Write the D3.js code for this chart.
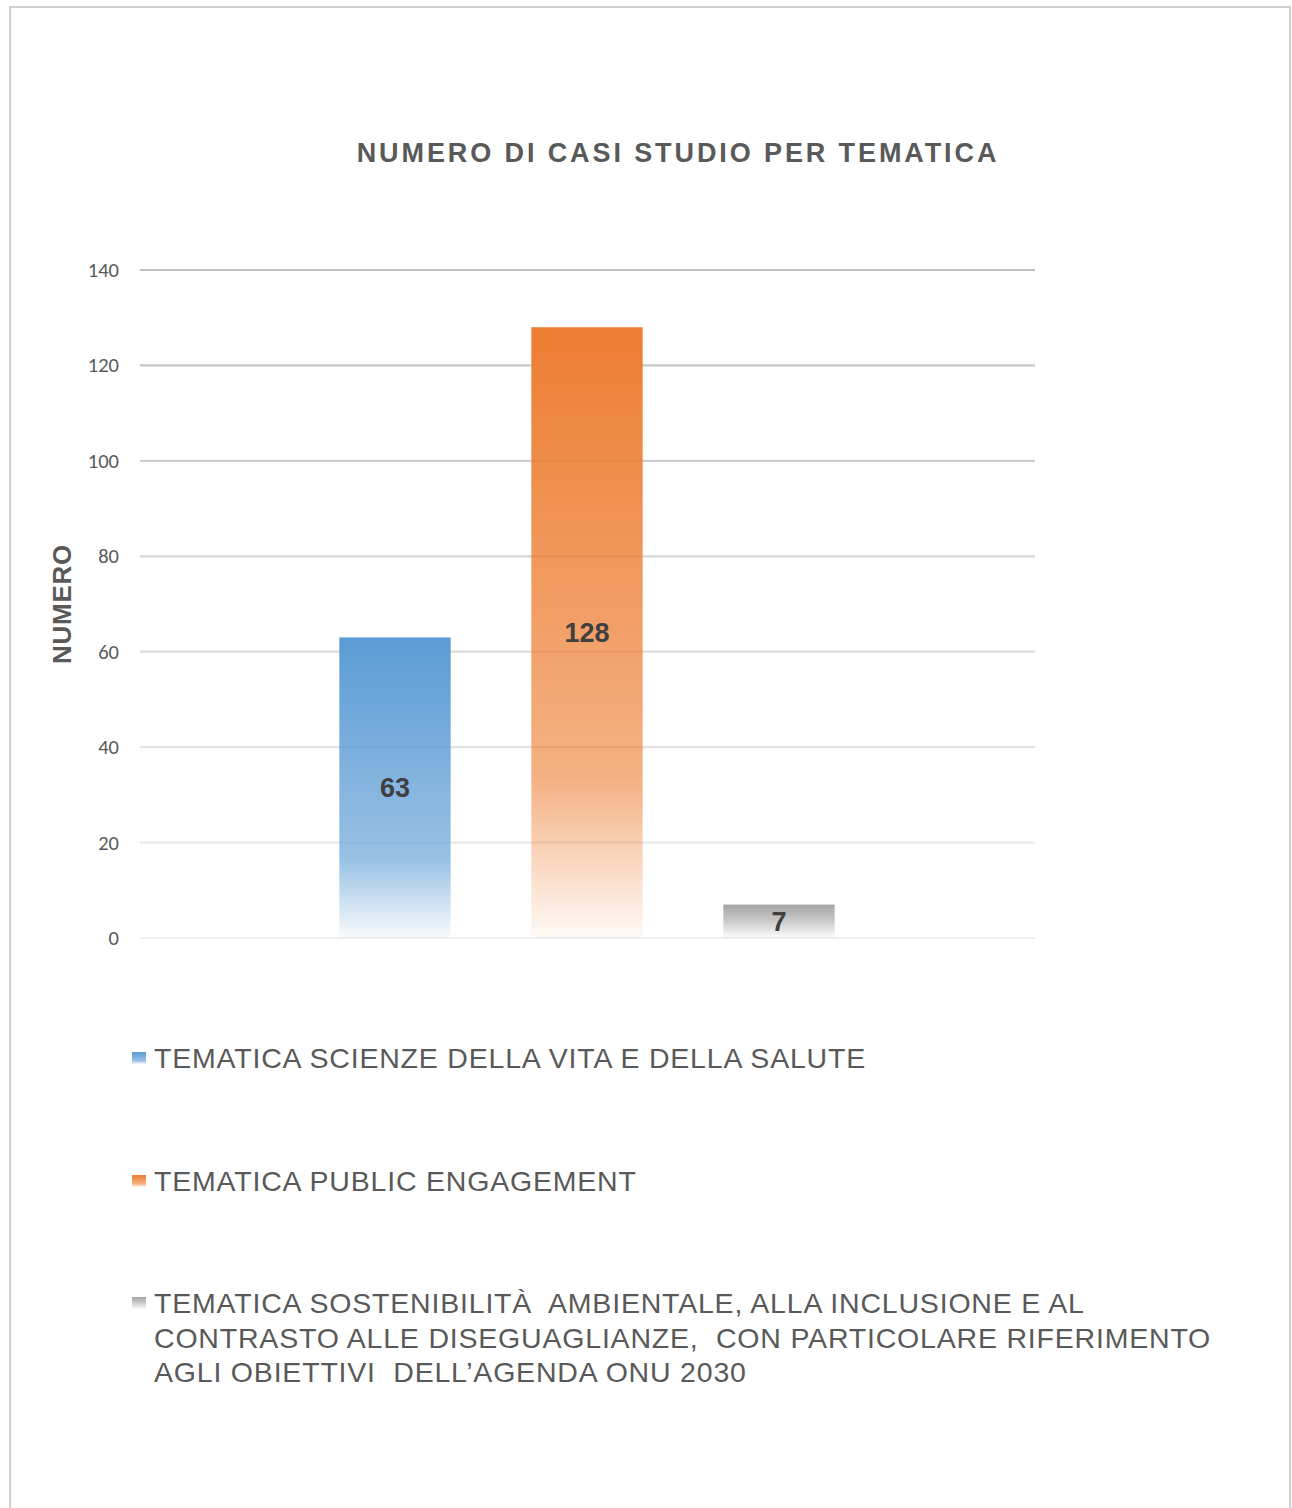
<!DOCTYPE html>
<html>
<head>
<meta charset="utf-8">
<script src="https://cdn.jsdelivr.net/npm/d3@7"></script>
<style>
  body { margin: 0; background: #fff; }
  svg { display: block; font-family: "Liberation Sans", Arial, sans-serif; }
</style>
</head>
<body>
<div id="chart"></div>
<script>
//  data
var SERIES = ["TEMATICA SCIENZE DELLA VITA E DELLA SALUTE",
  "TEMATICA PUBLIC ENGAGEMENT",
  "TEMATICA SOSTENIBILITÀ AMBIENTALE"];
var VALUES = [63, 128, 7];
var COLORS = ["#5b9bd5", "#ed7d31", "#a5a5a5"];
var LEGEND_LINES = [
  ["TEMATICA SCIENZE DELLA VITA E DELLA SALUTE"],
  ["TEMATICA PUBLIC ENGAGEMENT"],
  ["TEMATICA SOSTENIBILITÀ  AMBIENTALE, ALLA INCLUSIONE E AL",
   "CONTRASTO ALLE DISEGUAGLIANZE,  CON PARTICOLARE RIFERIMENTO",
   "AGLI OBIETTIVI  DELL\u2019AGENDA ONU 2030"]
];
var Y_TICKS = [0, 20, 40, 60, 80, 100, 120, 140];

function draw_chart() {
  const w = 1292
  const h = 1508
  const margin = ({top: 270, right: 257, bottom: 570, left: 140})

  const svg = d3.select("#chart").append("svg").attr("width", w).attr("height", h)

  // frame
  svg.append("path")
    .attr("d", `M10,${h} V7 H1290 V${h}`)
    .attr("fill", "none")
    .attr("stroke", "#d0d0d0")
    .attr("stroke-width", 2)

  const y = d3.scaleLinear().domain([0, 140]).range([h - margin.bottom, margin.top])
  const x = d3.scaleBand().domain(SERIES).range([299, 875]).paddingInner(0.42).paddingOuter(0.21)

  // gradients
  const defs = svg.append("defs")
  COLORS.forEach((c, i) => {
    const g = defs.append("linearGradient").attr("id", "grad" + i)
      .attr("x1", 0).attr("y1", 0).attr("x2", 0).attr("y2", 1)
    g.append("stop").attr("offset", "0%").attr("stop-color", c).attr("stop-opacity", 1)
    g.append("stop").attr("offset", i == 2 ? "45%" : "74%").attr("stop-color", c).attr("stop-opacity", i == 1 ? 0.6 : 0.62)
    g.append("stop").attr("offset", "100%").attr("stop-color", c).attr("stop-opacity", 0.04)
  })

  // gridlines
  const gridColor = d3.interpolateRgb("#f0f0f0", "#bfbfbf")
  svg.append("g").selectAll("line").data(Y_TICKS).enter()
    .append("line")
    .attr("x1", margin.left)
    .attr("x2", w - margin.right)
    .attr("y1", d => y(d))
    .attr("y2", d => y(d))
    .attr("stroke", d => gridColor(d / 140))
    .attr("stroke-width", 2.2)

  // y axis
  const yAxis = g => g
    .attr("transform", `translate(${margin.left},0)`)
    .call(d3.axisLeft(y).tickValues(Y_TICKS).tickSize(0).tickPadding(21))
    .call(g => g.select(".domain").remove())
    .call(g => g.selectAll("text")
      .attr("fill", "#595959")
      .style("font-size", "20.5px")
      .style("font-family", "Calibri, Carlito, 'Liberation Sans', sans-serif"))
  svg.append("g").call(yAxis)

  // bars
  svg.append("g").selectAll("rect").data(SERIES).enter()
    .append("rect")
    .attr("x", d => x(d))
    .attr("y", (d, i) => y(VALUES[i]))
    .attr("width", x.bandwidth())
    .attr("height", (d, i) => y(0) - y(VALUES[i]))
    .attr("fill", (d, i) => `url(#grad${i})`)

  // labels
  svg.append("g").selectAll("text").data(SERIES).enter()
    .append("text")
    .attr("x", d => x(d) + x.bandwidth() / 2)
    .attr("y", (d, i) => (y(VALUES[i]) + y(0)) / 2)
    .attr("dy", "0.36em")
    .attr("text-anchor", "middle")
    .attr("fill", "#404040")
    .style("font-size", "27px")
    .style("font-weight", "bold")
    .text((d, i) => VALUES[i])

  // title
  svg.append("text")
    .attr("x", 678)
    .attr("y", 162)
    .attr("text-anchor", "middle")
    .attr("fill", "#595959")
    .style("font-size", "27px")
    .style("font-weight", "bold")
    .style("letter-spacing", "2.9px")
    .text("NUMERO DI CASI STUDIO PER TEMATICA")

  // y title
  svg.append("text")
    .attr("transform", "translate(71,604) rotate(-90)")
    .attr("text-anchor", "middle")
    .attr("fill", "#595959")
    .style("font-size", "26px")
    .style("font-weight", "bold")
    .style("letter-spacing", "0.7px")
    .text("NUMERO")

  // legend
  const legY = [1058, 1181, 1303]
  const leg = svg.append("g").selectAll("g").data(LEGEND_LINES).enter()
    .append("g")
    .attr("transform", (d, i) => `translate(0,${legY[i]})`)
  leg.append("rect")
    .attr("x", 132).attr("y", -6)
    .attr("width", 14).attr("height", 12)
    .attr("fill", (d, i) => `url(#grad${i})`)
  leg.append("text")
    .attr("fill", "#595959")
    .style("font-size", "28.5px")
    .style("letter-spacing", "0.8px")
    .selectAll("tspan").data(d => d).enter()
    .append("tspan")
    .attr("x", 154)
    .attr("y", (d, j) => j * 34.5)
    .attr("dy", "0.36em")
    .style("white-space", "pre")
    .text(d => d)

  return svg.node()
}

draw_chart();
</script>
</body>
</html>
